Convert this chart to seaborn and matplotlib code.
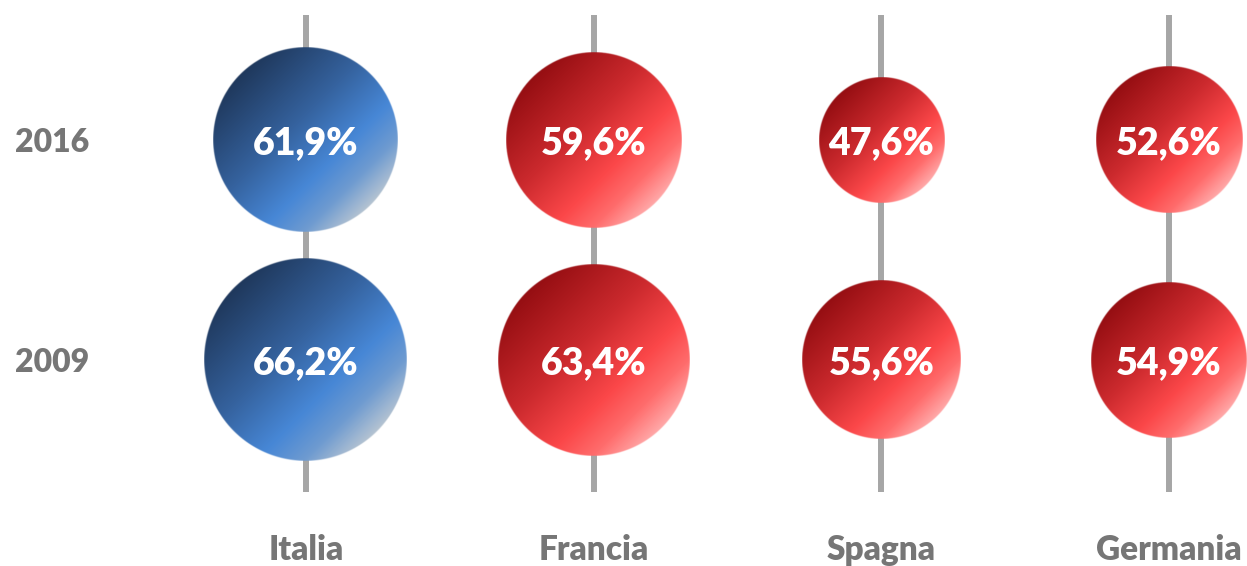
import numpy as np
import pandas as pd
import matplotlib
matplotlib.use("Agg")
import matplotlib.pyplot as plt
import matplotlib.transforms as mtransforms
from matplotlib.colors import LinearSegmentedColormap
import seaborn as sns

# Data
countries = ["Italia", "Francia", "Spagna", "Germania"]
years = ["2016", "2009"]
share_2016 = [61.9, 59.6, 47.6, 52.6]
share_2009 = [66.2, 63.4, 55.6, 54.9]
highlight = "Italia"

DPI = 100
W, H = 1247, 566

sns.set_theme(style="white")
plt.rcParams["font.family"] = ["Lato", "DejaVu Sans"]

# long table: one row per bubble
rows = []
for i, c in enumerate(countries):
    rows.append({"country": c, "x": i, "row": 1, "year": years[0], "value": share_2016[i]})
    rows.append({"country": c, "x": i, "row": 0, "year": years[1], "value": share_2009[i]})
df = pd.DataFrame(rows)
df["group"] = np.where(df["country"] == highlight, "hl", "other")

# bubble radius grows linearly with the share (fitted on the reference)
radius_px = 83.7 + 2.09 * (df["value"] - 57.7)
radius_pt = radius_px * 72 / DPI
df["area"] = (2 * radius_pt) ** 2

fig = plt.figure(figsize=(W / DPI, H / DPI), dpi=DPI)
ax = fig.add_axes([95 / W, (H - 528) / H, (W - 95) / W, 528 / H])

# gray stems behind each column
for i in range(len(countries)):
    ax.axvline(i, ymin=0.068, ymax=0.972, color="#a6a6a6", lw=4.3, zorder=0,
               solid_capstyle="butt")

sns.scatterplot(data=df, x="x", y="row", size="area",
                sizes=(df["area"].min(), df["area"].max()),
                hue="group", palette={"hl": "#3a6cb0", "other": "#d83234"},
                linewidth=0, legend=False, ax=ax, zorder=2)

cmaps = {
    "hl": LinearSegmentedColormap.from_list("blue_grad", [
        (0.0, "#1f385c"), (0.4, "#35629e"), (0.68, "#4787d6"), (0.85, "#6f9bd0"), (1.0, "#b4c3d2")]),
    "other": LinearSegmentedColormap.from_list("red_grad", [
        (0.0, "#950e12"), (0.4, "#cc2a2e"), (0.68, "#fb4749"), (0.85, "#ff6c6c"), (1.0, "#ffa8a8")]),
}

# gradient fill replaces the flat seaborn bubbles, reusing their offsets and sizes
points = ax.collections[-1]
offsets = points.get_offsets()
sizes = points.get_sizes()
points.set_visible(False)
N = 400
u = np.linspace(-1, 1, N)
v = np.linspace(1, -1, N)
U, V = np.meshgrid(u, v)
dist = np.sqrt(U ** 2 + V ** 2)
t = np.clip((U - V) / (2 * np.sqrt(2)) + 0.5, 0, 1)
for k, (xd, yd) in enumerate(offsets):
    r_pt = np.sqrt(sizes[k]) / 2
    r_in = r_pt / 72
    r_pix = r_in * DPI
    grp = df["group"].iloc[k]
    img = cmaps[grp](t)
    img[..., 3] = np.clip((1 - dist) * r_pix + 0.5, 0, 1)
    trans = fig.dpi_scale_trans + mtransforms.ScaledTranslation(xd, yd, ax.transData)
    ax.imshow(img, extent=(-r_in, r_in, -r_in, r_in), transform=trans,
              aspect="auto", interpolation="bilinear", zorder=3)
    label = f"{df['value'].iloc[k]:.1f}".replace(".", ",") + "%"
    ax.text(xd, yd, label, ha="center", va="center_baseline", color="white",
            fontsize=27, fontweight="heavy", zorder=4)

ax.set_xlim(-0.733, 3.271)
ax.set_ylim(-0.764, 1.636)
ax.set_aspect("auto")

ax.set_xticks(range(len(countries)), countries)
ax.set_yticks([1, 0], years)
ax.tick_params(axis="both", length=0)
ax.tick_params(axis="x", pad=4)
ax.tick_params(axis="y", pad=4)
for lab in ax.get_xticklabels():
    lab.set_fontsize(24)
    lab.set_fontweight("heavy")
    lab.set_color("#767676")
for lab in ax.get_yticklabels():
    lab.set_fontsize(23)
    lab.set_fontweight("heavy")
    lab.set_color("#767676")
ax.set_xlabel("")
ax.set_ylabel("")
for s in ax.spines.values():
    s.set_visible(False)
ax.grid(False)

fig.savefig("out.png", dpi=DPI, facecolor="white")
